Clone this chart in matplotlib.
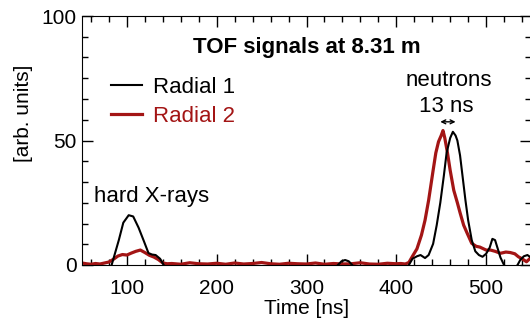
import matplotlib
matplotlib.use("Agg")
import matplotlib.pyplot as plt
from matplotlib.ticker import MultipleLocator, AutoMinorLocator

plt.rcParams['font.family'] = ['Liberation Sans', 'DejaVu Sans']

# Radial 1 (black) signal, values below 0 are clipped by the axis
t1 = [50, 80, 83, 87, 91, 96, 102, 107, 113, 119, 124, 128, 132, 137, 141, 145,
      330, 335, 339, 343, 347, 351, 355,
      410, 414, 418, 423, 427, 432, 436, 441, 445, 449, 453, 456, 460, 463, 466,
      468, 471, 474, 477, 480, 484, 488, 492, 496, 500, 504, 507, 510, 513, 516,
      520, 524, 530, 535, 538, 542, 546, 550]
v1 = [-2, -2, 0, 5, 10, 17, 20, 19.5, 15, 9.5, 4.8, 4.2, 4, 2.5, 0, -2,
      -2, 0, 1.5, 2, 1.5, 0, -2,
      -2, 0, 2.5, 3.5, 4, 2.8, 4, 8.5, 16, 25, 36, 45, 51, 53.5, 52,
      50, 44, 35, 26, 18, 10, 5.5, 4, 3.3, 4.5, 7, 10.5, 10, 6.5, 3,
      0, -2, -2, 0, 2, 3.5, 4, 3]

# Radial 2 (dark red) signal
t2 = [50, 55, 60, 65, 70, 75, 80, 85, 90, 95, 100, 105, 110, 115, 120, 125, 130,
      135, 140, 145, 150, 160, 170, 180, 190, 200, 210, 220, 230, 240, 250, 260,
      270, 280, 290, 300, 310, 320, 330, 340, 350, 360, 370, 380, 390, 400, 405,
      410, 414, 418, 423, 428, 432, 436, 441, 444, 447, 450, 452, 454, 457, 460,
      464, 468, 471, 475, 479, 484, 489, 493, 500, 505, 510, 516, 522, 527, 532,
      536, 540, 545, 550]
v2 = [0.8, 0.5, 0.3, 0.6, 0.4, 0.8, 1.2, 2.3, 3.6, 4.2, 4.0, 4.8, 5.5, 6.0, 5.0,
      3.9, 3.2, 2.2, 0.8, 0.5, 0.6, 0.3, 0.9, 0.5, 0.4, 0.7, 0.3, 0.8, 0.4, 0.6,
      1.0, 0.5, 0.3, 0.7, 0.5, 0.4, 0.8, 0.3, 0.6, 0.4, 0.5, 0.9, 0.4, 0.3, 0.7,
      0.5, 0.6, 0.4, 1.0, 3.5, 6.5, 12, 18, 26, 38, 45, 49.5, 52, 54, 51, 45, 38,
      30, 25, 21, 16, 12.7, 8.7, 7.5, 7.2, 6, 6, 5.5, 4.7, 5.2, 5, 4.5, 3.3, 2.5,
      1.3, 3]

black = 'black'
red = '#a31515'

fig = plt.figure(figsize=(5.3, 3.23), dpi=100)
ax = fig.add_axes([82 / 530, 58 / 323, 449 / 530, 249 / 323])

ax.plot(t2, v2, color=red, lw=2.3, label='Radial 2', zorder=2)
ax.plot(t1, v1, color=black, lw=1.5, label='Radial 1', zorder=3)

ax.set_xlim(50, 550)
ax.set_ylim(0, 100)
ax.xaxis.set_major_locator(MultipleLocator(100))
ax.xaxis.set_minor_locator(AutoMinorLocator(5))
ax.yaxis.set_major_locator(MultipleLocator(50))
ax.yaxis.set_minor_locator(AutoMinorLocator(6))
ax.tick_params(which='both', direction='in', top=True, right=True, labelsize=15)
ax.tick_params(which='major', length=8, width=1)
ax.tick_params(which='minor', length=4.5, width=1)
ax.tick_params(axis='x', pad=10)
ax.tick_params(axis='y', pad=4)

ax.set_xlabel('Time [ns]', fontsize=15, labelpad=1)
ax.set_ylabel('[arb. units]', fontsize=15)
ax.yaxis.set_label_coords(-0.11, 0.61)

ax.text(0.5, 0.875, 'TOF signals at 8.31 m', transform=ax.transAxes,
        ha='center', va='center', fontsize=16, fontweight='bold')

handles, labels = ax.get_legend_handles_labels()
leg = ax.legend(handles[::-1], labels[::-1], loc='upper left',
                bbox_to_anchor=(0.02, 0.835), frameon=False, fontsize=16,
                handlelength=1.4, handletextpad=0.5, labelspacing=0.35)
for txt, c in zip(leg.get_texts(), [black, red]):
    txt.set_color(c)

ax.text(128, 27.5, 'hard X-rays', ha='center', va='center', fontsize=16)
ax.text(459, 74, 'neutrons', ha='center', va='center', fontsize=16)
ax.text(456, 63.5, '13 ns', ha='center', va='center', fontsize=16)
ax.annotate('', xy=(466, 57.5), xytext=(449, 57.5),
            arrowprops=dict(arrowstyle='<->', lw=1, color='black',
                            mutation_scale=7, shrinkA=0, shrinkB=0))

fig.savefig('out.png', dpi=100)
